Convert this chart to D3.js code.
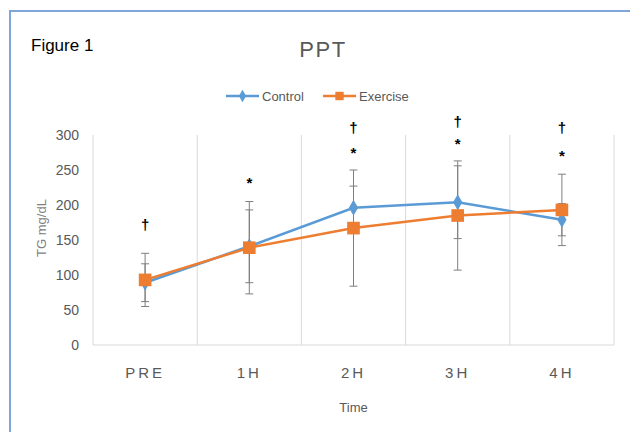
<!DOCTYPE html>
<html>
<head>
<meta charset="utf-8">
<script src="https://cdn.jsdelivr.net/npm/d3@7"></script>
<style>
  body { margin: 0; background: #fff; }
  text { font-family: "Liberation Sans", Arial, sans-serif; }
</style>
</head>
<body>
<div id="chart"></div>
<script>
const width = 630;
const height = 432;

// data
const categories = ["PRE", "1H", "2H", "3H", "4H"];
const controlMean = [89, 141, 196, 204, 179];
const controlSd = [27, 52, 31, 52, 23];
const exerciseMean = [93, 139, 167, 185, 193];
const exerciseSd = [38, 66, 83, 78, 51];
const yTicks = [0, 50, 100, 150, 200, 250, 300];
// significance marks: [category, symbol, y value]
const marks = [
    ["PRE", "\u2020", 172],
    ["1H", "*", 232],
    ["2H", "\u2020", 310], ["2H", "*", 274],
    ["3H", "\u2020", 319], ["3H", "*", 287],
    ["4H", "\u2020", 310], ["4H", "*", 271]
];

const margin = { top: 135, right: 16, bottom: 87, left: 93 };
const w = width - margin.left - margin.right;
const h = height - margin.top - margin.bottom;

const svg = d3.select("#chart")
    .append("svg")
    .attr("width", width)
    .attr("height", height);

// outer frame
svg.append("rect")
    .attr("x", 10).attr("y", 11)
    .attr("width", width).attr("height", height)
    .attr("fill", "none")
    .attr("stroke", "#7ea6d8")
    .attr("stroke-width", 2);

svg.append("text")
    .attr("x", 31).attr("y", 51)
    .attr("font-size", 17)
    .attr("fill", "#000")
    .text("Figure 1");

svg.append("text")
    .attr("x", 323).attr("y", 57)
    .attr("text-anchor", "middle")
    .attr("font-size", 22)
    .attr("letter-spacing", 1.5)
    .attr("fill", "#595959")
    .text("PPT");

const g = svg.append("g").attr("transform", `translate(${margin.left},${margin.top})`);

const x = d3.scaleBand().domain(categories).range([0, w]);
const y = d3.scaleLinear().domain([0, 300]).range([h, 0]);
const cx = d => x(d) + x.bandwidth() / 2;

// vertical category separators
const bounds = categories.map(c => x(c)).concat([w]);
g.selectAll(".vgrid")
    .data(bounds)
    .enter()
    .append("line")
    .attr("x1", d => d).attr("x2", d => d)
    .attr("y1", 0).attr("y2", h)
    .attr("stroke", "#d9d9d9");

g.append("line")
    .attr("x1", 0).attr("x2", w)
    .attr("y1", h).attr("y2", h)
    .attr("stroke", "#d9d9d9");

// y axis
const yAxis = g.append("g")
    .call(d3.axisLeft(y).tickValues(yTicks).tickSize(0).tickPadding(14));
yAxis.select(".domain").remove();
yAxis.selectAll("text")
    .attr("font-size", 14)
    .attr("fill", "#595959");

// x axis
const xAxis = g.append("g")
    .attr("transform", `translate(0,${h})`)
    .call(d3.axisBottom(x).tickSize(0).tickPadding(22));
xAxis.select(".domain").remove();
xAxis.selectAll("text")
    .attr("font-size", 15)
    .attr("letter-spacing", 3)
    .attr("fill", "#595959");

svg.append("text")
    .attr("x", margin.left + w / 2).attr("y", 412)
    .attr("text-anchor", "middle")
    .attr("font-size", 13)
    .attr("fill", "#595959")
    .text("Time");

svg.append("text")
    .attr("transform", `translate(46,228) rotate(-90)`)
    .attr("text-anchor", "middle")
    .attr("font-size", 13)
    .attr("fill", "#7f7f7f")
    .text("TG mg/dL");

const series = [
    { name: "Control", mean: controlMean, sd: controlSd, color: "#5b9bd5", symbol: d3.symbolDiamond, size: 75 },
    { name: "Exercise", mean: exerciseMean, sd: exerciseSd, color: "#ed7d31", symbol: d3.symbolSquare, size: 160 }
];

// error bars
series.forEach(s => {
    const eb = g.selectAll(".eb-" + s.name)
        .data(categories)
        .enter()
        .append("g")
        .attr("stroke", "#7f7f7f")
        .attr("stroke-width", 1);
    eb.append("line")
        .attr("x1", d => cx(d)).attr("x2", d => cx(d))
        .attr("y1", (d, i) => y(s.mean[i] + s.sd[i]))
        .attr("y2", (d, i) => y(s.mean[i] - s.sd[i]));
    eb.append("line")
        .attr("x1", d => cx(d) - 4).attr("x2", d => cx(d) + 4)
        .attr("y1", (d, i) => y(s.mean[i] + s.sd[i]))
        .attr("y2", (d, i) => y(s.mean[i] + s.sd[i]));
    eb.append("line")
        .attr("x1", d => cx(d) - 4).attr("x2", d => cx(d) + 4)
        .attr("y1", (d, i) => y(s.mean[i] - s.sd[i]))
        .attr("y2", (d, i) => y(s.mean[i] - s.sd[i]));
});

// lines and markers
series.forEach(s => {
    const line = d3.line()
        .x((d, i) => cx(categories[i]))
        .y(d => y(d));
    g.append("path")
        .datum(s.mean)
        .attr("d", line)
        .attr("fill", "none")
        .attr("stroke", s.color)
        .attr("stroke-width", 2.5);
    g.selectAll(".pt-" + s.name)
        .data(s.mean)
        .enter()
        .append("path")
        .attr("d", d3.symbol().type(s.symbol).size(s.size))
        .attr("transform", (d, i) => `translate(${cx(categories[i])},${y(d)})`)
        .attr("fill", s.color);
});

// significance marks
g.selectAll(".mark")
    .data(marks)
    .enter()
    .append("text")
    .attr("x", d => cx(d[0]))
    .attr("y", d => y(d[2]))
    .attr("dy", "0.35em")
    .attr("text-anchor", "middle")
    .attr("font-size", 15)
    .attr("font-weight", "bold")
    .attr("fill", "#000")
    .text(d => d[1]);

// legend
const legend = svg.append("g").attr("transform", "translate(0,96)");
const legendX = [226, 323];
series.forEach((s, i) => {
    const lg = legend.append("g").attr("transform", `translate(${legendX[i]},0)`);
    lg.append("line")
        .attr("x1", 0).attr("x2", 33)
        .attr("stroke", s.color)
        .attr("stroke-width", 2.5);
    lg.append("path")
        .attr("d", d3.symbol().type(s.symbol).size(i === 0 ? 45 : 70))
        .attr("transform", "translate(16.5,0)")
        .attr("fill", s.color);
    lg.append("text")
        .attr("x", 36)
        .attr("dy", "0.35em")
        .attr("font-size", 13)
        .attr("fill", "#595959")
        .text(s.name);
});
</script>
</body>
</html>
